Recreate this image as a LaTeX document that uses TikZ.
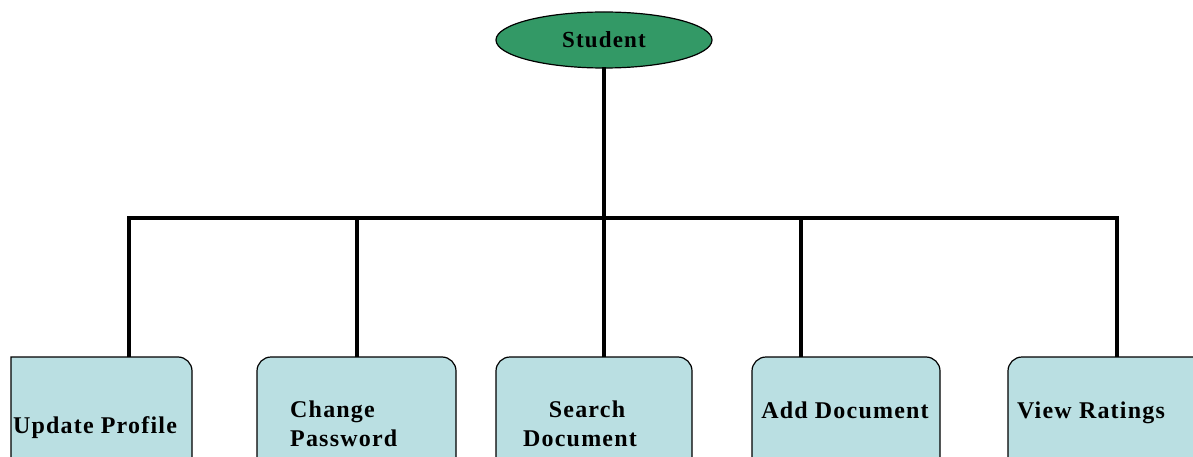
\documentclass[tikz,border=0pt]{standalone}
\usepackage{fontspec}
\setmainfont{Liberation Serif}
\newfontfamily\widefont[LetterSpace=5]{Liberation Serif}
\usetikzlibrary{shapes.geometric}
\definecolor{rootgreen}{HTML}{339966}
\definecolor{boxcyan}{HTML}{BADFE2}
\tikzset{
  rootnode/.style={ellipse, draw=black, line width=1.2pt, fill=rootgreen, minimum width=216pt, minimum height=56pt, inner sep=0pt, font=\widefont\bfseries\fontsize{23}{26}\selectfont},
  leafbox/.style={draw=black, line width=1.2pt, fill=boxcyan, rounded corners=14pt},
  leaftext/.style={font=\widefont\bfseries\fontsize{24}{29}\selectfont, inner sep=0pt},
  conn/.style={line width=3.8pt, line cap=rect}
}
\begin{document}
\begin{tikzpicture}[x=1pt,y=-1pt]
\useasboundingbox (0,0) rectangle (1193,457);
\fill[white] (0,0) rectangle (1193,457);
\begin{scope}
\clip (0,0) rectangle (1193,457);
% boxes
\draw[leafbox, sharp corners] (11,490) -- (11,357) [rounded corners=14pt] -- (192,357) -- (192,490) [sharp corners] -- cycle;
\draw[leafbox] (257,357) rectangle (456,490);
\draw[leafbox] (496,357) rectangle (692,490);
\draw[leafbox] (752,357) rectangle (940,490);
\draw[leafbox] (1008,357) rectangle (1210,490);
\coordinate (b1) at (129,357);
\coordinate (b2) at (357,357);
\coordinate (b3) at (604,357);
\coordinate (b4) at (801,357);
\coordinate (b5) at (1117,357);
\end{scope}
\node[rootnode] (root) at (604,40) {Student};
\coordinate (hub) at (604,218);
\coordinate (hl) at (129,218);
\coordinate (hr) at (1117,218);
\draw[conn] (root.south) -- (hub);
\draw[conn, line cap=butt] (b1) -- (hl) -- (hr) -- (b5);
\draw[line width=3.8pt] (b2) -- (b2 |- hl);
\draw[line width=3.8pt] (b3) -- (hub);
\draw[line width=3.8pt] (b4) -- (b4 |- hl);
% texts
\node[leaftext, anchor=base] (t1) at (95,433) {Update Profile};
\node[leaftext, anchor=base west, align=left] (t2) at (290,417) {Change};
\node[leaftext, anchor=base west, align=left] (t2b) at (290,446) {Password};
\node[leaftext, anchor=base] (t3) at (587,417) {Search};
\node[leaftext, anchor=base] (t3b) at (580,446) {Document};
\node[leaftext, anchor=base] (t4) at (845,418) {Add Document};
\node[leaftext, anchor=base] (t5) at (1091,418) {View Ratings};
\end{tikzpicture}
\end{document}
